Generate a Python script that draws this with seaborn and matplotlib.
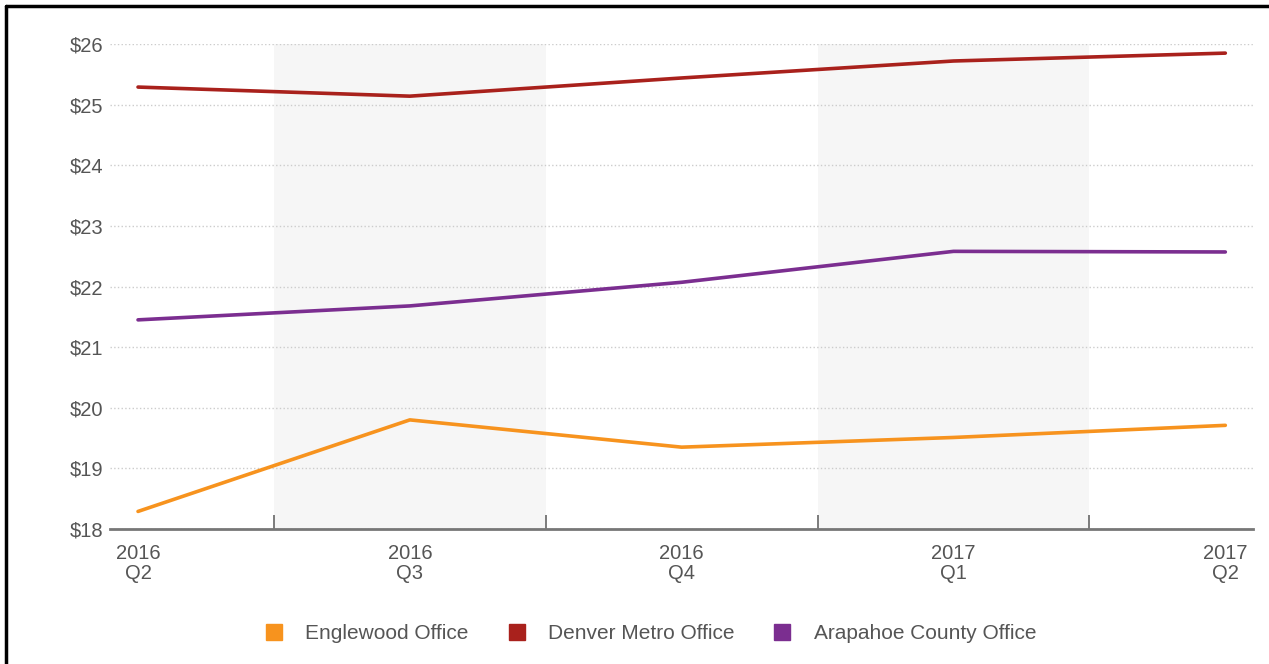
import pandas as pd
import seaborn as sns
import matplotlib.pyplot as plt
from matplotlib.lines import Line2D

# data
quarters = ['2016\nQ2', '2016\nQ3', '2016\nQ4', '2017\nQ1', '2017\nQ2']
englewood = [18.29, 19.80, 19.35, 19.51, 19.71]
denver = [25.29, 25.14, 25.44, 25.72, 25.85]
arapahoe = [21.45, 21.68, 22.07, 22.58, 22.57]
series_names = ['Englewood Office', 'Denver Metro Office', 'Arapahoe County Office']
colors = ['#F7931E', '#A9211C', '#7B2E90']
y_ticks = [18, 19, 20, 21, 22, 23, 24, 25, 26]

sns.set_style('white')
plt.rcParams['font.family'] = ['Liberation Sans', 'DejaVu Sans']

df = pd.DataFrame({
    'pos': list(range(len(quarters))) * 3,
    'rent': englewood + denver + arapahoe,
    'series': [s for s in series_names for _ in quarters],
})

fig = plt.figure(figsize=(12.69, 6.64), dpi=100)
ax = fig.add_axes([0.0867, 0.2033, 0.9003, 0.7304])

# alternating shaded bands
for i in range(1, len(quarters), 2):
    ax.axvspan(i - 0.5, i + 0.5, color='#f6f6f6', zorder=0, lw=0)

sns.lineplot(data=df, x='pos', y='rent', hue='series', hue_order=series_names,
             palette=colors, linewidth=2.6, legend=False, ax=ax, zorder=3)

ax.set_xlim(-0.103, 4.1)
ax.set_ylim(18, 26)
ax.set_yticks(y_ticks)
ax.set_yticklabels([f'${v}' for v in y_ticks])
ax.set_xticks(range(len(quarters)))
ax.set_xticklabels(quarters, linespacing=1.05)
ax.set_xticks([i + 0.5 for i in range(len(quarters) - 1)], minor=True)
ax.tick_params(axis='x', which='major', bottom=False, length=0, pad=11, labelsize=14.5, labelcolor='#555555')
ax.tick_params(axis='x', which='minor', bottom=True, direction='in', length=10, width=1.2, color='#666666')
ax.tick_params(axis='y', length=0, pad=5, labelsize=14.5, labelcolor='#555555')
ax.set_xlabel('')
ax.set_ylabel('')

ax.grid(axis='y', linestyle=':', color='#cccccc', linewidth=1)
ax.grid(axis='x', visible=False)
for side in ['top', 'right', 'left']:
    ax.spines[side].set_visible(False)
ax.spines['bottom'].set_color('#777777')
ax.spines['bottom'].set_linewidth(2)

handles = [Line2D([], [], marker='s', linestyle='', markersize=12, color=c) for c in colors]
fig.legend(handles, series_names, loc='center', bbox_to_anchor=(0.508, 0.046), ncol=3,
           frameon=False, fontsize=15, handletextpad=0.5, columnspacing=1.3,
           labelcolor='#555555')

# frame lines on the left and top of the picture
fig.add_artist(Line2D([0.005, 0.005], [0, 0.991], transform=fig.transFigure, color='black', lw=2.5))
fig.add_artist(Line2D([0.005, 1], [0.991, 0.991], transform=fig.transFigure, color='black', lw=2.5))

fig.savefig('out.png', dpi=100)
